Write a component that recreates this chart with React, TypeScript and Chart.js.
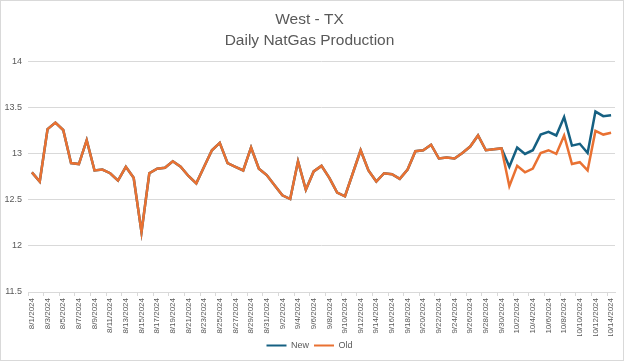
import React, { useEffect, useRef } from "react";
import { Chart, registerables } from "chart.js";

Chart.register(...registerables);

const dates: string[] = [
  "8/1/2024","8/2/2024","8/3/2024","8/4/2024","8/5/2024","8/6/2024","8/7/2024","8/8/2024","8/9/2024","8/10/2024",
  "8/11/2024","8/12/2024","8/13/2024","8/14/2024","8/15/2024","8/16/2024","8/17/2024","8/18/2024","8/19/2024","8/20/2024",
  "8/21/2024","8/22/2024","8/23/2024","8/24/2024","8/25/2024","8/26/2024","8/27/2024","8/28/2024","8/29/2024","8/30/2024",
  "8/31/2024","9/1/2024","9/2/2024","9/3/2024","9/4/2024","9/5/2024","9/6/2024","9/7/2024","9/8/2024","9/9/2024",
  "9/10/2024","9/11/2024","9/12/2024","9/13/2024","9/14/2024","9/15/2024","9/16/2024","9/17/2024","9/18/2024","9/19/2024",
  "9/20/2024","9/21/2024","9/22/2024","9/23/2024","9/24/2024","9/25/2024","9/26/2024","9/27/2024","9/28/2024","9/29/2024",
  "9/30/2024","10/1/2024","10/2/2024","10/3/2024","10/4/2024","10/5/2024","10/6/2024","10/7/2024","10/8/2024","10/9/2024",
  "10/10/2024","10/11/2024","10/12/2024","10/13/2024","10/14/2024",
];

const oldValues: number[] = [
  12.8, 12.7, 13.27, 13.34, 13.26, 12.9, 12.89, 13.15, 12.82, 12.83,
  12.79, 12.71, 12.86, 12.74, 12.15, 12.79, 12.84, 12.85, 12.92, 12.86,
  12.76, 12.68, 12.86, 13.04, 13.12, 12.9, 12.86, 12.82, 13.07, 12.84,
  12.77, 12.66, 12.55, 12.51, 12.92, 12.61, 12.81, 12.87, 12.74, 12.58,
  12.54, 12.79, 13.04, 12.82, 12.7, 12.79, 12.78, 12.73, 12.83, 13.03,
  13.04, 13.1, 12.95, 12.96, 12.95, 13.01, 13.08, 13.2, 13.04, 13.05,
  13.06, 12.65, 12.87, 12.8, 12.84, 13.01, 13.04, 13.0, 13.2, 12.89,
  12.91, 12.82, 13.25, 13.21, 13.23,
];

const newValues: number[] = [
  12.8, 12.7, 13.27, 13.34, 13.26, 12.9, 12.89, 13.15, 12.82, 12.83,
  12.79, 12.71, 12.86, 12.74, 12.15, 12.79, 12.84, 12.85, 12.92, 12.86,
  12.76, 12.68, 12.86, 13.04, 13.12, 12.9, 12.86, 12.82, 13.07, 12.84,
  12.77, 12.66, 12.55, 12.51, 12.92, 12.61, 12.81, 12.87, 12.74, 12.58,
  12.54, 12.79, 13.04, 12.82, 12.7, 12.79, 12.78, 12.73, 12.83, 13.03,
  13.04, 13.1, 12.95, 12.96, 12.95, 13.01, 13.08, 13.2, 13.04, 13.05,
  13.06, 12.86, 13.07, 13.0, 13.04, 13.21, 13.24, 13.2, 13.4, 13.09,
  13.11, 13.01, 13.46, 13.41, 13.42,
];

const titleLines: string[] = ["West - TX", "Daily NatGas Production"];

const FONT = "'Liberation Sans Narrow', 'Liberation Sans', Roboto, sans-serif";
const TEXT = "#595959";
const GRID = "#d9d9d9";

export default function App() {
  const ref = useRef<HTMLCanvasElement | null>(null);

  useEffect(() => {
    if (!ref.current) return;
    const chart = new Chart(ref.current, {
      type: "line",
      data: {
        labels: dates,
        datasets: [
          {
            label: "New",
            data: newValues,
            borderColor: "#156082",
            backgroundColor: "#156082",
            borderWidth: 2.5,
            pointRadius: 0,
            tension: 0,
            order: 2,
          },
          {
            label: "Old",
            data: oldValues,
            borderColor: "#E97132",
            backgroundColor: "#E97132",
            borderWidth: 2.5,
            pointRadius: 0,
            tension: 0,
            order: 1,
          },
        ],
      },
      options: {
        animation: false,
        responsive: false,
        maintainAspectRatio: false,
        layout: { padding: { left: 3, right: 8, top: 0, bottom: 0 } },
        plugins: {
          title: {
            display: true,
            text: titleLines,
            color: TEXT,
            font: { family: FONT, size: 15.5, weight: "normal", lineHeight: 1.35 },
            padding: { top: 8, bottom: 11 },
          },
          legend: {
            position: "bottom",
            labels: {
              color: TEXT,
              font: { family: FONT, size: 9 },
              boxWidth: 20,
              boxHeight: 2,
              padding: 5,
              sort: (a: any, b: any) => a.datasetIndex - b.datasetIndex,
              generateLabels: (c: any) =>
                Chart.defaults.plugins.legend.labels.generateLabels(c).map((l: any) => ({
                  ...l,
                  fillStyle: l.strokeStyle,
                  lineWidth: 0,
                })),
            },
          },
          tooltip: { enabled: false },
        },
        scales: {
          x: {
            type: "category",
            offset: true,
            grid: {
              offset: true,
              drawOnChartArea: false,
              drawTicks: true,
              tickLength: 4,
              color: (ctx: any) => (ctx.index % 2 === 0 ? GRID : "rgba(0,0,0,0)"),
            },
            border: { display: true, color: GRID },
            ticks: {
              autoSkip: false,
              minRotation: 90,
              maxRotation: 90,
              color: TEXT,
              font: { family: FONT, size: 8 },
              padding: 2,
              callback: (_v: any, i: number) => (i % 2 === 0 ? dates[i] : ""),
            },
            afterFit: (s: any) => {
              s.height = 44;
            },
          },
          y: {
            min: 11.5,
            max: 14,
            ticks: {
              stepSize: 0.5,
              color: TEXT,
              font: { family: FONT, size: 9 },
              padding: 6,
              callback: (v: any) => String(Number(v)),
            },
            grid: { color: GRID, drawTicks: false },
            border: { display: false },
            afterFit: (s: any) => {
              s.width = 24;
            },
          },
        },
      },
    } as any);
    return () => chart.destroy();
  }, []);

  return (
    <div
      style={{
        position: "fixed",
        left: 0,
        top: 0,
        width: 624,
        height: 361,
        boxSizing: "border-box",
        border: "1px solid #d9d9d9",
        background: "#fff",
      }}
    >
      <canvas ref={ref} width={622} height={359} style={{ display: "block" }} />
    </div>
  );
}
